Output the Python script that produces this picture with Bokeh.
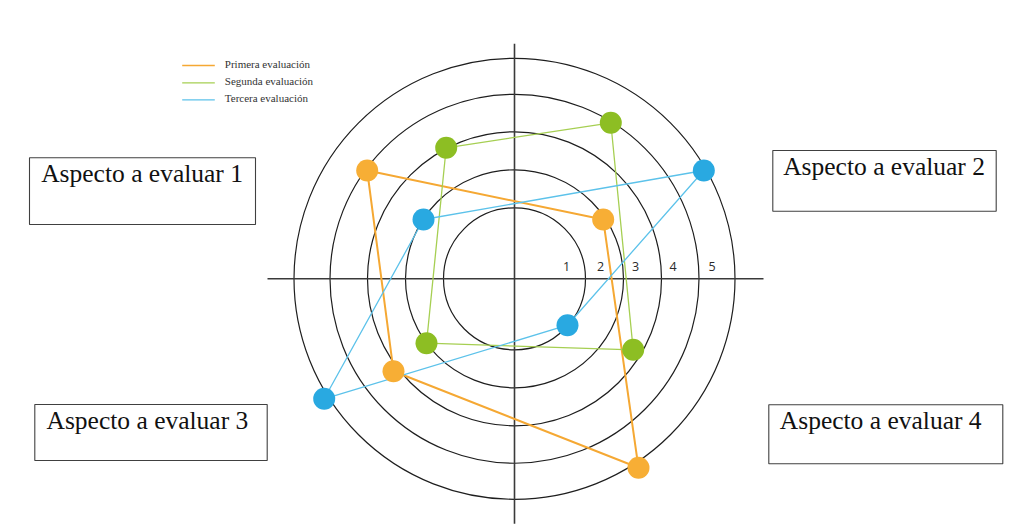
from bokeh.plotting import figure
from bokeh.core.properties import value
from bokeh.embed import file_html
from bokeh.resources import INLINE

# ---------------- data (units: px from centre, y up) ----------------
aspects = ["Aspecto a evaluar 1", "Aspecto a evaluar 2", "Aspecto a evaluar 3", "Aspecto a evaluar 4"]
series_names = ["Primera evaluación", "Segunda evaluación", "Tercera evaluación"]
ring_labels = ["1", "2", "3", "4", "5"]
ring_radius = [71, 109, 147, 184.5, 220.5]

# order of points: aspecto 1 (top-left), 2 (top-right), 3 (bottom-left), 4 (bottom-right)
primera_x = [-147.3, 88.7, -121.0, 124.0]
primera_y = [108.3, 59.3, -92.4, -189.0]
segunda_x = [-68.3, 96.3, -88.0, 118.7]
segunda_y = [131.0, 156.0, -64.4, -71.0]
tercera_x = [-91.0, 189.3, -190.3, 53.0]
tercera_y = [59.3, 108.3, -120.0, -46.4]

marker_colors = ["#F7AE35", "#8DBE23", "#29A9E1"]
line_colors = ["#F5A833", "#A6CF52", "#5CC2EA"]
line_widths = [2.0, 1.3, 1.3]

# ---------------- figure ----------------
W, H = 1024, 529
ox, oy = 514.0, 278.3  # centre in page px
p = figure(width=W, height=H, x_range=(-ox, W - ox), y_range=(oy - H, oy),
           output_backend="svg", toolbar_location=None, min_border=0,
           outline_line_color=None, background_fill_color="white")
p.axis.visible = False
p.grid.visible = False

# concentric rings
p.circle(x=[0] * len(ring_radius), y=[0] * len(ring_radius), radius=ring_radius,
         fill_color=None, line_color="#1e1e1e", line_width=1.2)

# axes cross
p.line(x=[-247, 249], y=[0, 0], line_color="#3a3a3a", line_width=1.6)
p.line(x=[0, 0], y=[-245, 235], line_color="#3a3a3a", line_width=1.6)

# ring labels (placed just inside each ring)
label_inset = [19, 23, 26, 26, 23]
p.text(x=[r - d for r, d in zip(ring_radius, label_inset)], y=[12] * len(ring_radius),
       text=ring_labels, text_font=value("Open Sans"), text_font_size="12.5px",
       text_color="#2a2a2a", text_align="center", text_baseline="middle")

# series polygons and markers
order = [0, 1, 3, 2, 0]
xs_all = [primera_x, segunda_x, tercera_x]
ys_all = [primera_y, segunda_y, tercera_y]
for xs, ys, lc, lw in zip(xs_all, ys_all, line_colors, line_widths):
    p.line(x=[xs[i] for i in order], y=[ys[i] for i in order], line_color=lc, line_width=lw)
for xs, ys, mc in zip(xs_all, ys_all, marker_colors):
    p.scatter(x=xs, y=ys, size=22, fill_color=mc, line_color=None)


def dx(px):
    return px - ox


def dy(py):
    return oy - py


# legend (manual)
leg_py = [65.0, 82.3, 99.3]
for lc, ly in zip(line_colors, leg_py):
    p.line(x=[dx(181.7), dx(214.3)], y=[dy(ly), dy(ly)], line_color=lc, line_width=1.3)
p.text(x=[dx(224.3)] * 3, y=[dy(v - 2) for v in leg_py], text=series_names,
       text_font=value("Liberation Serif"), text_font_size="11px", text_color="#333333",
       text_baseline="middle", text_align="left")

# aspect boxes (left, right, top, bottom in page px)
boxes = [(29, 255, 157.3, 224.0), (772.3, 995.7, 150.0, 210.7),
         (34.3, 266.7, 404.0, 460.0), (768.3, 1002.3, 404.3, 463.3)]
text_pos = [(40.7, 173.0), (782.7, 166.0), (46.0, 419.5), (779.3, 420.0)]

p.quad(left=[dx(b[0]) for b in boxes], right=[dx(b[1]) for b in boxes],
       top=[dy(b[2]) for b in boxes], bottom=[dy(b[3]) for b in boxes],
       fill_color="white", line_color="#404040", line_width=1.1)
p.text(x=[dx(t[0]) for t in text_pos], y=[dy(t[1]) for t in text_pos], text=aspects,
       text_font=value("Liberation Serif"), text_font_size="25.5px", text_color="#111111",
       text_align="left", text_baseline="alphabetic")

open("out.html", "w").write(file_html(p, INLINE))
